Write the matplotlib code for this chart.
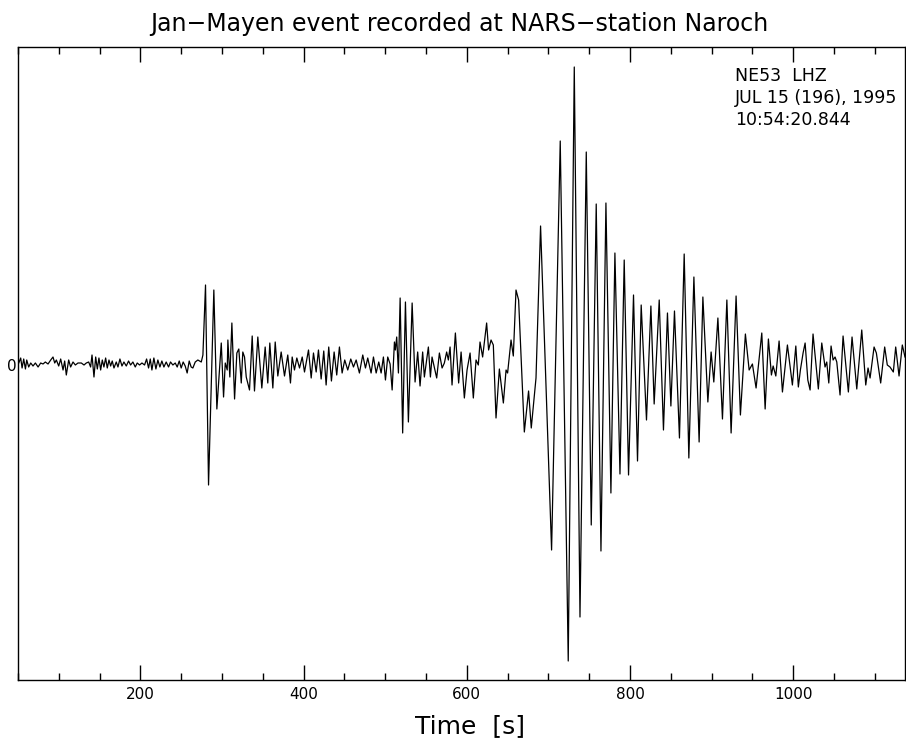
import numpy as np
import matplotlib
matplotlib.use("Agg")
import matplotlib.pyplot as plt
from matplotlib.ticker import MultipleLocator

# Vertical component trace at its turning points
# (time in s after record start, amplitude in arbitrary counts)
noise_t = [50.9, 53.3, 55.0, 57.0, 59.1, 60.7, 63.1, 65.6, 68.4, 71.3, 74.6, 77.8,
           80.7, 83.5, 86.8, 90.1, 92.9, 95.0, 97.0, 99.9, 102.3, 105.2, 107.2, 109.2,
           112.1, 114.5, 117.4, 120.3, 123.5, 127.6, 130.9, 133.7, 136.6, 139.0, 140.7,
           143.1, 145.2, 147.2, 149.2, 151.3, 153.3, 155.3, 157.4, 159.4, 161.5, 163.5,
           165.5, 167.6, 170.4, 172.5, 174.9, 177.4, 179.8, 182.7, 185.5, 188.0, 190.8,
           193.7, 196.1, 199.0, 201.9, 205.1, 207.6, 210.0, 212.1, 214.1, 216.5, 219.0,
           221.4, 223.9, 226.3, 228.8, 231.6, 234.5, 236.9, 239.8, 242.7, 245.1, 247.6,
           250.0, 252.4, 254.9, 257.3, 259.8, 262.2, 264.3, 267.2, 270.4, 274.6, 276.6]
noise_a = [2, 7, -3, 6, -4, 5, -2, 2, -1, 2, -2, 2,
           1, 3, 1, 5, 8, 2, 5, -1, 6, -5, 4, -10,
           5, -2, 3, 0, 2, 2, 0, 2, 3, -2, 10,
           -12, 8, -4, 7, -5, 5, -2, 7, -3, 5, -1,
           4, -3, 3, -2, 6, -1, 3, -1, 4, 0, 3,
           -2, 2, 0, 2, 0, 6, -3, 6, -5, 7, -4,
           5, -2, 4, -2, 3, -2, 3, 0, 2, -2, 4,
           -3, 3, -1, -8, 4, -2, -3, 3, 5, 3, 10]

body_t = [279.8, 283.5, 290.0, 293.7, 299.1, 301.9, 304.0, 306.4, 307.2, 309.6, 312.1,
          315.4, 318.2, 320.6, 323.6, 325.5, 327.6, 329.7, 333.7, 337.0, 339.8, 343.9,
          348.8, 352.9, 356.1, 358.6, 362.3, 365.2, 368.4, 372.5, 376.6, 380.6, 383.9,
          386.0, 388.8, 391.7, 395.0, 398.3, 401.1, 406.0, 409.3, 412.1, 415.4, 418.2,
          421.5, 424.7, 427.6, 430.8, 434.1, 437.4, 440.6, 443.9, 447.2, 450.4, 454.1,
          457.8, 461.1, 464.4, 468.4, 472.5, 475.8, 478.6, 482.7, 485.6, 488.9, 492.1,
          495.0, 497.8, 500.3, 503.1, 506.0, 508.5, 511.3, 512.5, 514.1, 516.2, 518.3,
          521.4, 524.8, 528.4, 533.0, 536.6, 539.8, 542.7, 545.9, 548.0, 552.9, 555.4,
          557.4, 563.1, 566.4, 569.7, 572.5, 575.3, 577.4, 579.5, 581.9, 586.0, 590.0,
          593.0, 597.0, 600.3, 604.0, 608.0, 611.3, 614.1, 616.2, 619.4, 624.3, 626.7,
          629.7, 632.5, 635.8, 639.9, 644.8, 648.1, 650.0, 654.2, 657.0, 660.3, 663.5,
          670.5, 675.7, 679.0, 684.8]
body_a = [80, -120, 75, -44, 22, -32, 2, -5, 25, -12, 42,
          -34, 12, 16, -18, 13, 8, -12, -25, 29, -26, 28,
          -23, 18, -18, 22, -23, 23, -11, 13, -11, 10, -18,
          8, -5, 7, -3, 8, -7, 15, -13, 12, -7, 15,
          -14, 14, -20, 18, -16, 13, -10, 18, -8, 5, -5,
          6, -2, 5, -8, 10, -3, 7, -8, 8, -8, 3,
          -8, 8, -15, 8, 1, -25, 23, 15, 28, -8, 67,
          -68, 63, -57, 62, -17, 13, -21, 13, -12, 18, -12,
          8, -13, 12, -3, 2, 13, 5, 18, -20, 32, -18,
          13, -33, -5, 12, -33, 5, 0, 23, 8, 42, 15,
          25, 20, -53, -4, -38, -5, -8, 25, 9, 75, 65,
          -67, -26, -63, -13]

surf_t = [690.4, 703.9, 714.5, 724.3, 731.7, 738.7, 746.4, 752.5, 758.6, 764.4, 770.5,
          776.6, 781.5, 787.7, 792.9, 798.2, 804.3, 809.2, 813.7, 820.2, 825.6, 829.6,
          835.8, 841.0, 845.9, 850.1, 854.5, 860.6, 866.4, 872.1, 878.3, 884.7, 889.3,
          895.4, 899.4, 902.7, 907.7, 913.3, 918.7, 923.9, 930.0, 935.3, 941.4, 946.0,
          950.0, 954.5, 961.5, 965.6]
surf_a = [139, -185, 224, -296, 298, -252, 213, -160, 161, -186, 162,
          -128, 112, -109, 105, -110, 70, -96, 60, -55, 59, -39,
          65, -65, 52, -41, 54, -73, 111, -93, 88, -77, 68,
          -37, 13, -17, 47, -54, 65, -68, 69, -50, 31, -5,
          1, -23, 32, -44]

coda_t = [969.6, 973.3, 975.4, 978.7, 982.7, 986.8, 992.9, 999.0, 1003.2, 1006.3, 1008.8,
          1012.1, 1014.6, 1017.9, 1020.7, 1024.3, 1030.8, 1035.0, 1039.0, 1041.1, 1043.6,
          1046.4, 1048.9, 1051.3, 1053.4, 1057.4, 1061.1, 1067.6, 1072.1, 1077.9, 1084.0,
          1088.9, 1091.7, 1094.2, 1099.1, 1101.9, 1107.2, 1112.1, 1115.3, 1118.6, 1122.7,
          1125.6, 1129.7, 1133.7, 1137.0]
coda_a = [26, -10, -1, -11, 24, -27, 20, -20, 19, -22, -5,
          12, 22, -15, -25, 31, -24, 22, -2, 3, -18,
          19, 5, 8, 3, -30, 29, -27, 28, -24, 35,
          -20, -3, -13, 18, 12, -18, 18, 0, -2, -7,
          18, -11, 20, 8]

title = "Jan\u2212Mayen event recorded at NARS\u2212station Naroch"
header_lines = ["NE53  LHZ", "JUL 15 (196), 1995", "10:54:20.844"]

FONT = "DejaVu Sans"


def main():
    t = np.concatenate([noise_t, body_t, surf_t, coda_t])
    a = np.concatenate([noise_a, body_a, surf_a, coda_a])

    fig = plt.figure(figsize=(9.06, 7.47), dpi=100)
    ax = fig.add_axes([18 / 906, 1 - 680 / 747, 887 / 906, 633 / 747])

    ax.plot(t, a, color="black", lw=0.9)

    ax.set_xlim(50, 1137)
    ax.set_ylim(-315, 318)

    ax.xaxis.set_major_locator(MultipleLocator(200))
    ax.xaxis.set_minor_locator(MultipleLocator(50))
    ax.set_yticks([0])
    ax.set_yticklabels(["0"])
    ax.tick_params(axis="x", which="major", direction="in", length=11, width=1,
                   top=True, labelsize=11, pad=5)
    ax.tick_params(axis="x", which="minor", direction="in", length=5, width=1, top=True)
    ax.tick_params(axis="y", direction="in", length=0, labelsize=11, pad=1)
    for sp in ax.spines.values():
        sp.set_linewidth(1.0)

    fig.text(459 / 906, 1 - 31 / 747, title, ha="center", va="baseline",
             fontsize=17, family=FONT)
    fig.text(470 / 906, 1 - 733 / 747, "Time  [s]", ha="center", va="baseline",
             fontsize=18, family=FONT)

    for i, line in enumerate(header_lines):
        fig.text(735 / 906, 1 - (81 + i * 22) / 747, line, ha="left", va="baseline",
                 fontsize=12.5, family=FONT)

    fig.savefig("out.png", dpi=100)
    plt.close(fig)


if __name__ == "__main__":
    main()
